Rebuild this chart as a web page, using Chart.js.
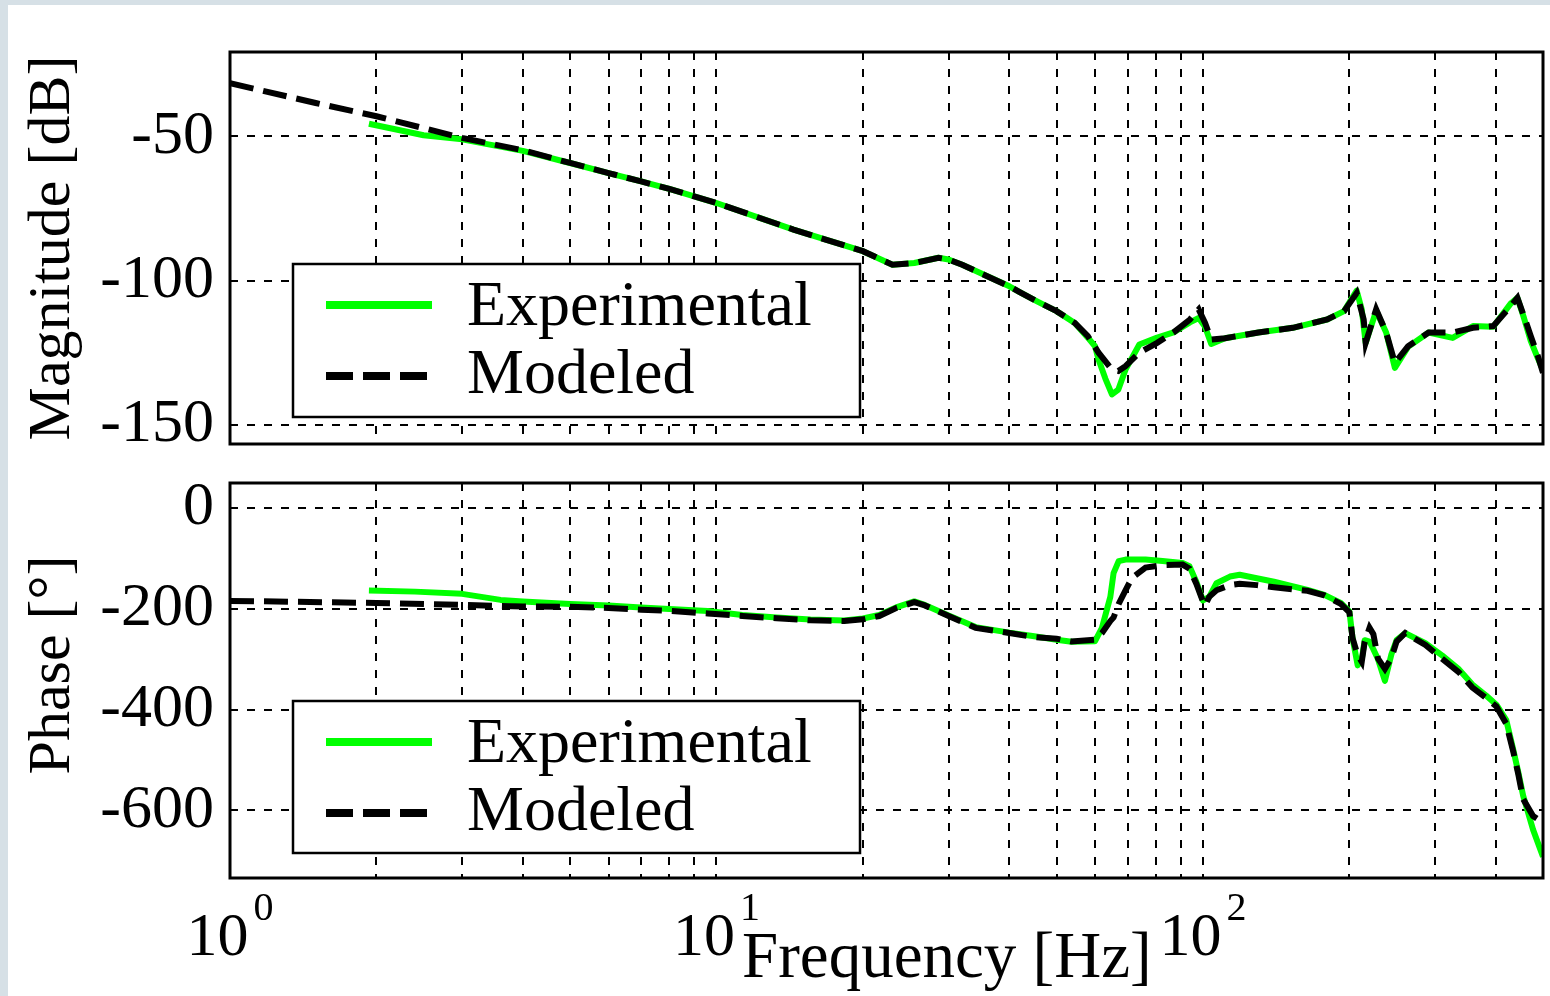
<!DOCTYPE html>
<html>
<head>
<meta charset="utf-8">
<script src="https://cdn.jsdelivr.net/npm/chart.js@4.4.1/dist/chart.umd.min.js"></script>
<style>
  html, body { margin: 0; padding: 0; }
  body { width: 1550px; height: 996px; background: #d6e0e6; position: relative; overflow: hidden; }
  #paper { position: absolute; left: 8px; top: 5px; width: 1542px; height: 991px; background: #ffffff; }
  canvas { position: absolute; left: 0; }
  #cMag { top: 0; }
  #cPh { top: 460px; }
</style>
</head>
<body>
<div id="paper"></div>
<canvas id="cMag" width="1550" height="460"></canvas>
<canvas id="cPh" width="1550" height="536"></canvas>
<script>
// ---------------- data ----------------
const seriesNames = ['Experimental', 'Modeled'];

const freqModelMag = [1, 1.5, 2, 3, 4, 5, 6, 7, 8, 9, 10, 14.4, 20, 23, 25.5, 28.6, 30, 32, 40, 42, 45.6, 50, 54.5, 58, 61, 65, 67, 69.3, 74, 80.5, 87, 94, 98, 101, 104, 111, 130, 153, 180, 195, 207, 214, 216, 227, 238, 248, 264, 291, 326, 359, 395, 429, 443, 457, 472, 488, 500];
const magModel = [-31.5, -38.4, -43, -50.5, -54.8, -59.2, -62.7, -65.6, -68.2, -70.8, -73.1, -82.3, -89.8, -94.5, -93.9, -92.1, -92.7, -94.5, -102, -104, -107.2, -110.6, -114.7, -119.3, -125, -130.9, -131.4, -129.7, -125, -121.6, -118, -113.5, -110, -114.7, -120.5, -120, -118, -116.4, -113.5, -110.6, -104.3, -113.5, -121.6, -110, -118, -128.6, -122.8, -118, -118, -116.4, -115.8, -108.9, -106, -112.4, -119.3, -126.2, -132];

const freqExpMag = [1.93, 2.5, 3, 4, 5, 6, 7, 8, 9, 10, 14.4, 20, 23, 25.5, 28.6, 30, 32, 40, 42, 45.6, 50, 54.5, 58, 60, 61, 63, 65, 67, 69.3, 74, 80.5, 87, 94, 98, 101, 104, 111, 130, 153, 180, 195, 207, 212, 216, 227, 238, 248, 264, 291, 326, 359, 395, 429, 443, 457, 472, 488, 500];
const magExp = [-45.6, -49.6, -51, -55, -59.2, -62.7, -65.6, -68.2, -70.8, -73.1, -82.3, -89.8, -94.5, -93.9, -92.1, -92.7, -94.5, -102, -104, -107.2, -110.6, -114.7, -119.8, -122.8, -127.4, -134, -139.5, -137.8, -130.9, -122.2, -119.8, -118, -114.5, -113, -116, -122, -120, -118, -116.4, -113.5, -110.6, -103.5, -110, -121.6, -110.5, -118, -130.3, -123, -118, -119.9, -115.8, -116, -108, -106, -113, -121, -127, -131];

const freqModelPh = [1, 2, 3, 4, 5, 6, 7, 8, 9.6, 11.3, 13.3, 15.6, 18.3, 20, 21.6, 23.4, 25.5, 26.8, 30, 34.1, 40, 45, 50, 53.7, 60, 62, 64.5, 65.5, 67.1, 69.3, 71.5, 76.2, 82.6, 90.8, 93.8, 96.9, 100, 101, 103, 106.6, 113.6, 119, 129, 140, 164, 177.6, 192, 200, 203, 208, 212, 215, 220, 224, 229, 236.6, 244, 250, 260.5, 286.6, 310, 336, 358, 382, 401, 420, 434, 445, 455, 477, 500];
const phaseModel = [-184, -188, -192, -195, -195.5, -198, -201.5, -203.6, -209, -214, -218.5, -222.6, -224, -220.6, -214, -198, -186.6, -193, -214, -237.5, -247.7, -256, -259, -264.7, -261, -247.7, -224, -217, -190, -163, -138, -118, -113, -112, -120, -150, -185, -193, -176, -163, -152.7, -150, -152.7, -157, -164, -173, -190, -207, -258, -292, -305, -265, -237.5, -250, -298.6, -319, -297, -265, -247.7, -271.5, -298.6, -325.8, -356, -376.6, -393.6, -427.6, -481.8, -529, -577, -611, -624];

const freqExpPh = [1.93, 2.4, 3, 3.6, 4, 5, 6, 7, 8, 9.6, 11.3, 13.3, 15.6, 18.3, 20, 21.6, 23.4, 25.5, 26.8, 30, 34.1, 40, 45, 50, 53.7, 60, 62, 64.5, 65.5, 67.1, 69.3, 76.2, 82.6, 90.8, 93.8, 96.9, 100, 103, 106.6, 113.6, 119, 129, 140, 164, 177.6, 192, 200, 203, 208, 212, 215, 220, 224, 229, 236.6, 244, 250, 260.5, 286.6, 310, 336, 358, 382, 401, 420, 434, 445, 455, 477, 500];
const phaseExp = [-163.5, -165.6, -170, -182, -185, -190, -193, -197, -200, -204, -212, -217, -221, -223, -219, -212, -197, -185, -192, -213, -236, -247, -254, -261, -265, -264, -237.5, -176, -129, -105, -102, -102, -105, -108.6, -115, -146, -183, -176, -149, -135.7, -132, -139, -146, -162, -172, -188, -205, -258, -312, -300, -262, -265, -280, -300, -342.7, -290, -262, -248, -268, -292, -320, -350, -372, -390, -420, -478, -525, -570, -638, -692];

const magTicks = [-50, -100, -150];
const phaseTicks = [0, -200, -400, -600];
const freqGrid = [1, 2, 3, 4, 5, 6, 7, 8, 9, 10, 20, 30, 40, 50, 60, 70, 80, 90, 100, 200, 300, 400, 500];
const decadeValues = [1, 10, 100];
const decadeExponents = ['0', '1', '2'];
const magTitle = 'Magnitude [dB]';
const phaseTitle = 'Phase [\u00B0]';
const freqTitle = 'Frequency [Hz]';

// ---------------- styling ----------------
const SERIF = '"Liberation Serif", "DejaVu Serif", serif';
const GREEN = '#00ff00';
const BLACK = '#000000';

function pts(xs, ys) { return xs.map((x, i) => ({x: x, y: ys[i]})); }

function makeDatasets(fe, ve, fm, vm) {
  return [
    {label: seriesNames[0], data: pts(fe, ve), borderColor: GREEN, backgroundColor: GREEN,
     borderWidth: 6, pointRadius: 0, tension: 0, order: 1, borderJoinStyle: 'round'},
    {label: seriesNames[1], data: pts(fm, vm), borderColor: BLACK, backgroundColor: BLACK,
     borderWidth: 6, borderDash: [24, 10], pointRadius: 0, tension: 0, order: 0}
  ];
}

// frame + legend + titles plugin
function decorPlugin(cfg) {
  return {
    id: 'decor',
    afterDatasetsDraw(chart) {
      const ctx = chart.ctx;
      const a = chart.chartArea;
      ctx.save();
      // legend box
      const lb = cfg.legend;
      ctx.fillStyle = '#ffffff';
      ctx.fillRect(lb.x, lb.y, lb.w, lb.h);
      ctx.lineWidth = 2.5;
      ctx.strokeStyle = BLACK;
      ctx.setLineDash([]);
      ctx.strokeRect(lb.x, lb.y, lb.w, lb.h);
      const dsets = chart.data.datasets;
      // experimental sample
      ctx.lineWidth = 8;
      ctx.lineCap = 'butt';
      ctx.strokeStyle = dsets[0].borderColor;
      ctx.beginPath(); ctx.moveTo(lb.x + 33, lb.y + 41); ctx.lineTo(lb.x + 139, lb.y + 41); ctx.stroke();
      // modeled sample
      ctx.strokeStyle = dsets[1].borderColor;
      ctx.setLineDash([27, 10]);
      ctx.beginPath(); ctx.moveTo(lb.x + 33, lb.y + 112); ctx.lineTo(lb.x + 134, lb.y + 112); ctx.stroke();
      ctx.setLineDash([]);
      ctx.fillStyle = BLACK;
      ctx.font = '64px ' + SERIF;
      ctx.textAlign = 'left';
      ctx.textBaseline = 'alphabetic';
      ctx.fillText(dsets[0].label, lb.x + 174, lb.y + 61);
      ctx.fillText(dsets[1].label, lb.x + 174, lb.y + 129);
      // frame
      ctx.lineWidth = 3;
      ctx.strokeStyle = BLACK;
      ctx.strokeRect(a.left, a.top, a.right - a.left, a.bottom - a.top);
      // y title
      ctx.save();
      ctx.translate(69, cfg.yTitleCenter);
      ctx.rotate(-Math.PI / 2);
      ctx.font = '60px ' + SERIF;
      ctx.textAlign = 'center';
      ctx.textBaseline = 'alphabetic';
      ctx.fillText(cfg.yTitle, 0, 0);
      ctx.restore();
      // x labels (bottom chart only)
      if (cfg.xLabels) {
        const xs = chart.scales.x;
        decadeValues.forEach((d, i) => {
          const px = xs.getPixelForValue(d);
          ctx.font = '62px ' + SERIF;
          const w1 = ctx.measureText('10').width;
          ctx.font = '40px ' + SERIF;
          const w2 = ctx.measureText(decadeExponents[i]).width;
          const gap = 5;
          const x0 = px - (w1 + gap + w2) / 2;
          ctx.font = '62px ' + SERIF;
          ctx.fillText('10', x0, 955 - 460);
          ctx.font = '40px ' + SERIF;
          ctx.fillText(decadeExponents[i], x0 + w1 + gap, 920 - 460);
        });
        ctx.font = '65px ' + SERIF;
        ctx.fillText(freqTitle, 742, 977 - 460);
      }
      ctx.restore();
    }
  };
}

function makeOptions(yMin, yMax, yTicks, padTop, xHeight) {
  return {
    responsive: false,
    maintainAspectRatio: false,
    animation: false,
    devicePixelRatio: 1,
    layout: {padding: {left: 0, right: 7, top: padTop, bottom: 0}},
    plugins: {legend: {display: false}, tooltip: {enabled: false}},
    scales: {
      x: {
        type: 'logarithmic', min: 1, max: 500,
        afterBuildTicks: (s) => { s.ticks = freqGrid.map(v => ({value: v})); },
        afterFit: (s) => { s.height = xHeight; s.paddingLeft = 0; s.paddingRight = 0; },
        ticks: {display: false},
        grid: {color: BLACK, lineWidth: 2, drawTicks: false},
        border: {display: false, dash: [8, 9]}
      },
      y: {
        type: 'linear', min: yMin, max: yMax,
        afterBuildTicks: (s) => { s.ticks = yTicks.map(v => ({value: v})); },
        afterFit: (s) => { s.width = 230; s.paddingTop = 0; s.paddingBottom = 0; },
        ticks: {color: BLACK, font: {family: SERIF, size: 62}, padding: 16,
                callback: (v) => String(v)},
        grid: {color: BLACK, lineWidth: 2, drawTicks: false},
        border: {display: false, dash: [8, 9]}
      }
    }
  };
}

new Chart(document.getElementById('cMag'), {
  type: 'line',
  data: {datasets: makeDatasets(freqExpMag, magExp, freqModelMag, magModel)},
  options: makeOptions(-156.7, -20.7, magTicks, 52, 16),
  plugins: [decorPlugin({legend: {x: 293, y: 264, w: 567, h: 153}, yTitle: magTitle, yTitleCenter: 248, xLabels: false})]
});

new Chart(document.getElementById('cPh'), {
  type: 'line',
  data: {datasets: makeDatasets(freqExpPh, phaseExp, freqModelPh, phaseModel)},
  options: makeOptions(-734, 50, phaseTicks, 23, 118),
  plugins: [decorPlugin({legend: {x: 293, y: 701 - 460, w: 567, h: 152}, yTitle: phaseTitle, yTitleCenter: 665 - 460, xLabels: true})]
});
</script>
</body>
</html>
